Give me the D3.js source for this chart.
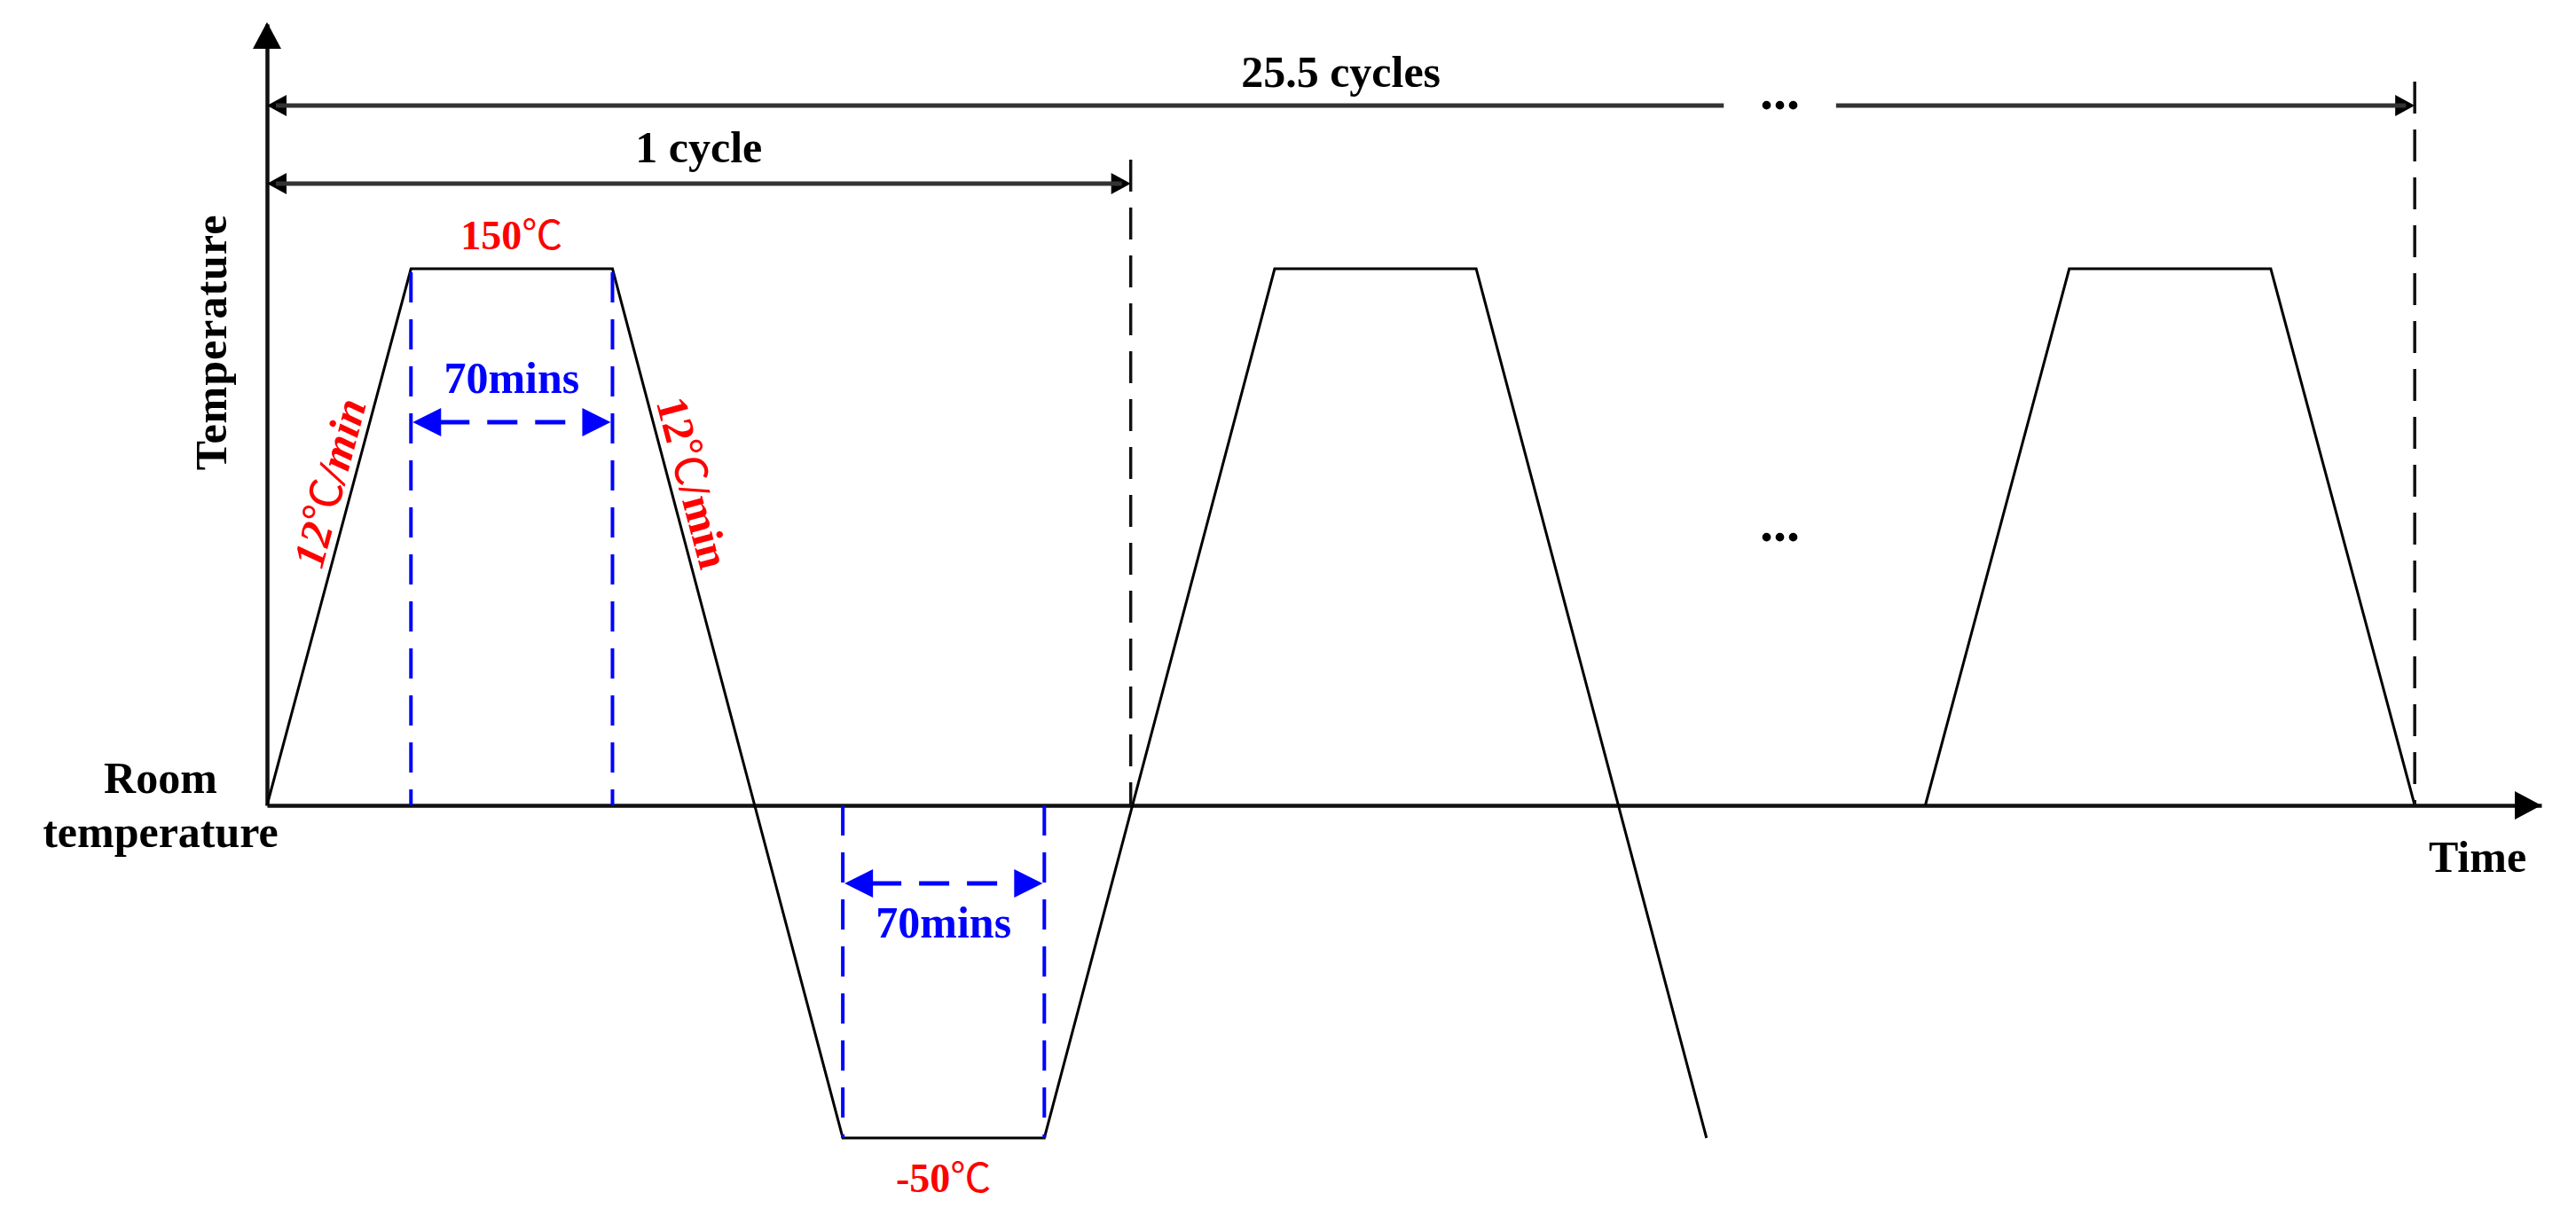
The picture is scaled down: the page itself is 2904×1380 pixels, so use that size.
<!DOCTYPE html>
<html>
<head>
<meta charset="utf-8">
<script src="https://cdn.jsdelivr.net/npm/d3@7"></script>
<style>
body { margin: 0; background: #fff; }
text { font-family: "Times New Roman", "Liberation Serif", "Noto Sans CJK SC", serif; font-weight: bold; }
tspan.deg { font-family: "Noto Sans CJK SC", "DejaVu Sans", sans-serif; font-weight: normal; font-style: normal; }
</style>
</head>
<body>
<svg id="chart" width="2904" height="1380"></svg>
<script>
// schematic time units (one dwell = 70 mins), temperatures in degC
var cycleTimes = [0, 50, 120, 200, 270, 350, 420, 500];
var cycleTemps = [25, 150, 150, -50, -50, 150, 150, -50];
var lastTimes = [576, 626, 696, 746];
var lastTemps = [25, 150, 150, 25];
var dwellStart = [50, 200];
var dwellEnd = [120, 270];
var dwellTemp = [150, -50];
var dwellLabels = ["70mins", "70mins"];
var tempLabels = ["150℃", "-50℃"];
var rampLabel = "12℃/min";
var roomTemp = 25;
var oneCycleEnd = 300;
var allCyclesEnd = 746;
var gapStart = 506, gapEnd = 545;
var tMax = 790, tempTop = 207;

var svg = d3.select("#chart");
var x = d3.scaleLinear().domain([0, tMax]).range([301, 2865]);
var y = d3.scaleLinear().domain([-50, 25, 150]).range([1283, 908, 303]);
var y0 = y(roomTemp);

function head(tx, ty, ang, len, half, color){
	// filled triangle with its tip at (tx,ty), pointing along ang (radians)
	var c = Math.cos(ang), s = Math.sin(ang);
	var bx = tx - c*len, by = ty - s*len;
	var p = [[tx, ty], [bx - s*half, by + c*half], [bx + s*half, by - c*half]];
	svg.append("path").attr("d", "M" + p.join("L") + "Z").attr("fill", color);
}

// put the degree sign in its own thinner tspan
function degText(sel, str){
	var parts = str.split("℃");
	parts.forEach(function(p, i){
		if(p) sel.append("tspan").text(p);
		if(i < parts.length - 1) sel.append("tspan").attr("class", "deg").text("℃");
	});
	return sel;
}

// axes
var gx = svg.append("g").attr("transform", "translate(0," + y0 + ")")
	.call(d3.axisBottom(x).tickValues([]).tickSizeOuter(0));
gx.select(".domain").attr("stroke", "#111").attr("stroke-width", 4.5);
head(x(tMax), y0, 0, 30, 16, "#000");

var yAxisScale = d3.scaleLinear().domain([roomTemp, tempTop]).range([y0, y(tempTop)]);
var gy = svg.append("g").attr("transform", "translate(" + x(0) + ",0)")
	.call(d3.axisLeft(yAxisScale).tickValues([]).tickSizeOuter(0));
gy.select(".domain").attr("stroke", "#111").attr("stroke-width", 4.5);
head(x(0), y(tempTop) - 2, -Math.PI/2, 30, 16, "#000");

svg.append("text").attr("x", x(tMax) - 72).attr("y", y0 + 75)
	.attr("text-anchor", "middle").attr("font-size", 50).text("Time");
svg.append("text").attr("transform", "translate(" + (x(0) - 46) + "," + (y(150) + 83) + ") rotate(-90)")
	.attr("text-anchor", "middle").attr("font-size", 50).attr("letter-spacing", 1).text("Temperature");
svg.append("text").attr("x", x(0) - 120).attr("y", y0 - 14)
	.attr("text-anchor", "middle").attr("font-size", 50).text("Room");
svg.append("text").attr("x", x(0) - 120).attr("y", y0 + 47)
	.attr("text-anchor", "middle").attr("font-size", 50).text("temperature");

// temperature profile
var line = d3.line().x(function(d){ return x(d[0]); }).y(function(d){ return y(d[1]); });
[d3.zip(cycleTimes, cycleTemps), d3.zip(lastTimes, lastTemps)].forEach(function(pts){
	svg.append("path").datum(pts).attr("d", line)
		.attr("fill", "none").attr("stroke", "#000").attr("stroke-width", 3)
		.attr("stroke-linejoin", "miter");
});

// cycle markers
function dimLine(t0, t1, yy){
	svg.append("line").attr("x1", x(t1)).attr("x2", x(t1)).attr("y1", yy - 27).attr("y2", y0)
		.attr("stroke", "#111").attr("stroke-width", 3.5).attr("stroke-dasharray", "36,18");
	head(x(t0), yy, Math.PI, 22, 12, "#000");
	head(x(t1), yy, 0, 22, 12, "#000");
}
var yOne = 207, yAll = 119;
dimLine(0, oneCycleEnd, yOne);
svg.append("line").attr("x1", x(0) + 10).attr("x2", x(oneCycleEnd) - 10).attr("y1", yOne).attr("y2", yOne)
	.attr("stroke", "#333").attr("stroke-width", 5);
svg.append("text").attr("x", x(oneCycleEnd / 2)).attr("y", yOne - 24)
	.attr("text-anchor", "middle").attr("font-size", 50).text("1 cycle");

dimLine(0, allCyclesEnd, yAll);
svg.append("line").attr("x1", x(0) + 10).attr("x2", x(gapStart)).attr("y1", yAll).attr("y2", yAll)
	.attr("stroke", "#333").attr("stroke-width", 5);
svg.append("line").attr("x1", x(gapEnd)).attr("x2", x(allCyclesEnd) - 10).attr("y1", yAll).attr("y2", yAll)
	.attr("stroke", "#333").attr("stroke-width", 5);
svg.append("text").attr("x", x(allCyclesEnd / 2)).attr("y", yAll - 21)
	.attr("text-anchor", "middle").attr("font-size", 50).text("25.5 cycles");
svg.append("text").attr("x", x((gapStart + gapEnd) / 2)).attr("y", yAll + 4)
	.attr("text-anchor", "middle").attr("font-size", 60).text("...");
svg.append("text").attr("x", x((gapStart + gapEnd) / 2)).attr("y", y(88) + 7)
	.attr("text-anchor", "middle").attr("font-size", 60).text("...");

// dwell annotations
var blue = "#0000ff", red = "#ff0000";
dwellStart.forEach(function(t0, i){
	var t1 = dwellEnd[i], T = dwellTemp[i];
	var top = T > roomTemp;
	[t0, t1].forEach(function(t){
		svg.append("line").attr("x1", x(t)).attr("x2", x(t))
			.attr("y1", top ? y(T) + 4 : y0).attr("y2", top ? y0 : y(T))
			.attr("stroke", blue).attr("stroke-width", 4).attr("stroke-dasharray", "34,19");
	});
	var ay = top ? y(T) + 173 : y(T) - 287;
	svg.append("line").attr("x1", x(t0) + 28).attr("x2", x(t1) - 28).attr("y1", ay).attr("y2", ay)
		.attr("stroke", blue).attr("stroke-width", 5).attr("stroke-dasharray", "34,20")
		.attr("stroke-dashoffset", -4);
	head(x(t0) + 2, ay, Math.PI, 32, 16, blue);
	head(x(t1) - 2, ay, 0, 32, 16, blue);
	svg.append("text").attr("x", x((t0 + t1) / 2)).attr("y", top ? ay - 33 : ay + 61)
		.attr("text-anchor", "middle").attr("font-size", 50).attr("fill", blue).text(dwellLabels[i]);
	degText(svg.append("text").attr("x", x((t0 + t1) / 2)).attr("y", top ? y(T) - 22 : y(T) + 61)
		.attr("text-anchor", "middle").attr("font-size", 46).attr("fill", red), tempLabels[i]);
});

// ramp rate labels, laid along the first two ramps
function rampText(tA, TA, tB, TB, frac, italic){
	var xa = x(tA), ya = y(TA), xb = x(tB), yb = y(TB);
	var ang = Math.atan2(yb - ya, xb - xa) * 180 / Math.PI;
	var px = xa + (xb - xa) * frac, py = ya + (yb - ya) * frac;
	degText(svg.append("text").attr("transform", "translate(" + px + "," + py + ") rotate(" + ang + ")")
		.attr("x", 0).attr("y", -9).attr("text-anchor", "middle")
		.attr("font-size", 50).attr("font-style", italic ? "italic" : "normal")
		.attr("fill", red), rampLabel);
}
rampText(cycleTimes[0], cycleTemps[0], cycleTimes[1], cycleTemps[1], 0.59, true);
rampText(cycleTimes[2], cycleTemps[2], cycleTimes[3], cycleTemps[3], 0.253, false);
</script>
</body>
</html>
